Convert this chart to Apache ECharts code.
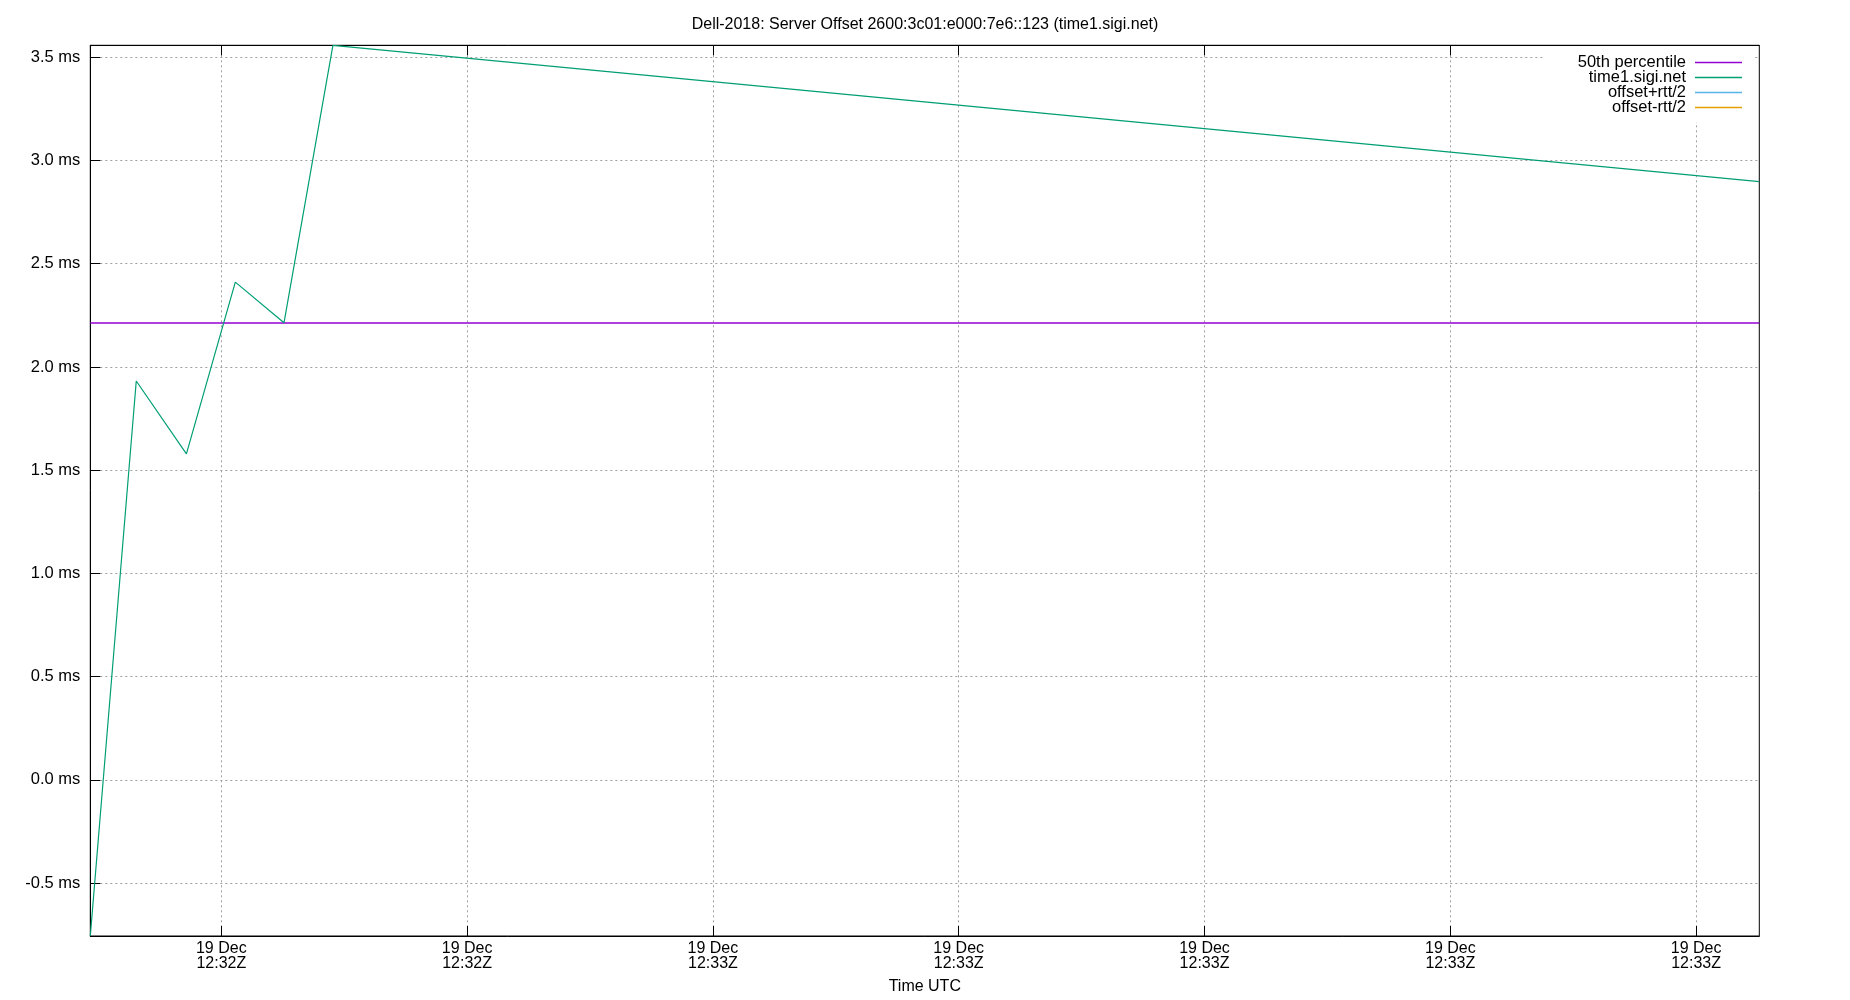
<!DOCTYPE html>
<html><head><meta charset="utf-8">
<script src="https://cdn.jsdelivr.net/npm/echarts@6/dist/echarts.min.js"></script>
<style>html,body{margin:0;padding:0;background:#fff}#c{width:1850px;height:1000px}</style>
</head><body><div id="c"></div>
<script>
// seconds after 19 Dec 12:32:00 UTC
const times = [34.67, 36.54, 38.58, 40.57, 42.55, 44.54, 102.57];
const offsets = [-0.756, 1.932, 1.579, 2.411, 2.214, 3.558, 2.898];
const medianValue = 2.213;
const medianTimes = [34.67, 102.57];
const plusRtt = [];
const minusRtt = [];
const xTickValues = [40, 50, 60, 70, 80, 90, 100];
const xTickLabels = ['19 Dec\n12:32Z','19 Dec\n12:32Z','19 Dec\n12:33Z','19 Dec\n12:33Z','19 Dec\n12:33Z','19 Dec\n12:33Z','19 Dec\n12:33Z'];
const yTickValues = [-0.5, 0.0, 0.5, 1.0, 1.5, 2.0, 2.5, 3.0, 3.5];
const seriesNames = ['50th percentile', 'time1.sigi.net', 'offset+rtt/2', 'offset-rtt/2'];
const seriesColors = ['#9400d3', '#009e73', '#56b4e9', '#e69f00'];
const titleText = 'Dell-2018: Server Offset 2600:3c01:e000:7e6::123 (time1.sigi.net)';

const font = 'Liberation Sans, Arial, sans-serif';
const xMin = Math.min(...times), xMax = Math.max(...times);
const yMin = Math.min(...offsets), yMax = Math.max(...offsets);
const chart = echarts.init(document.getElementById('c'));
const gridLine = {show: true, lineStyle: {color: '#a0a0a0', width: 1, type: [2, 3]}};
const xLabel = (v) => { const i = xTickValues.indexOf(Math.round(v)); return i >= 0 ? xTickLabels[i] : ''; };
chart.setOption({
  animation: false,
  backgroundColor: '#fff',
  title: {text: titleText, left: 'center', top: 12, textStyle: {fontFamily: font, fontSize: 16, fontWeight: 'normal', color: '#000'}},
  grid: {left: 90.3, right: 90.7, top: 45.3, bottom: 64, show: true, borderColor: '#000', borderWidth: 1, backgroundColor: 'transparent'},
  legend: {
    orient: 'vertical', right: 97, top: 46, align: 'right',
    padding: [8, 11, 6, 33], backgroundColor: '#fff',
    itemWidth: 47, itemHeight: 1.5, itemGap: -2, icon: 'rect',
    textStyle: {fontFamily: font, fontSize: 16.5, color: '#000', lineHeight: 13, padding: [0, 4, 0, 0]},
    data: seriesNames
  },
  xAxis: [{
    type: 'value', min: xMin, max: xMax, position: 'bottom',
    name: 'Time UTC', nameLocation: 'middle', nameGap: 43,
    nameTextStyle: {fontFamily: font, fontSize: 16, color: '#000'},
    axisLine: {show: true, onZero: false, lineStyle: {color: '#000'}},
    axisTick: {show: true, inside: true, length: 10, customValues: xTickValues, lineStyle: {color: '#000'}},
    axisLabel: {customValues: xTickValues, formatter: xLabel, fontFamily: font, fontSize: 16, color: '#000', lineHeight: 15, margin: 5},
    splitLine: gridLine
  }, {
    type: 'value', min: xMin, max: xMax, position: 'top',
    axisLine: {show: true, onZero: false, lineStyle: {color: '#000'}},
    axisTick: {show: true, inside: true, length: 10, customValues: xTickValues, lineStyle: {color: '#000'}},
    axisLabel: {show: false}, splitLine: {show: false}
  }],
  yAxis: {
    type: 'value', min: yMin, max: yMax,
    axisLine: {show: true, onZero: false, lineStyle: {color: '#000'}},
    axisTick: {show: true, inside: true, length: 10, customValues: yTickValues, lineStyle: {color: '#000'}},
    axisLabel: {customValues: yTickValues, formatter: (v) => v.toFixed(1) + ' ms', fontFamily: font, fontSize: 16.5, color: '#000', margin: 10},
    splitLine: gridLine
  },
  series: [
    {name: seriesNames[0], type: 'line', xAxisIndex: 0, data: medianTimes.map(t => [t, medianValue]), showSymbol: false, symbol: 'none', color: seriesColors[0], lineStyle: {width: 1.6, color: seriesColors[0]}},
    {name: seriesNames[1], type: 'line', xAxisIndex: 0, data: times.map((t, i) => [t, offsets[i]]), showSymbol: false, symbol: 'none', color: seriesColors[1], lineStyle: {width: 1.2, color: seriesColors[1]}},
    {name: seriesNames[2], type: 'line', xAxisIndex: 0, data: plusRtt, symbol: 'none', color: seriesColors[2], lineStyle: {width: 1.2, color: seriesColors[2]}},
    {name: seriesNames[3], type: 'line', xAxisIndex: 0, data: minusRtt, symbol: 'none', color: seriesColors[3], lineStyle: {width: 1.2, color: seriesColors[3]}}
  ]
});
</script></body></html>
